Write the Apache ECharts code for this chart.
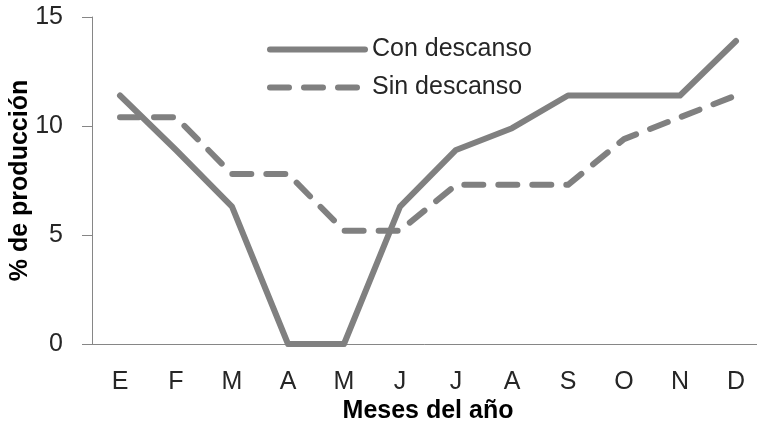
<!DOCTYPE html>
<html>
<head>
<meta charset="utf-8">
<script src="https://cdn.jsdelivr.net/npm/echarts@6/dist/echarts.min.js"></script>
<style>
html,body{margin:0;padding:0;background:#fff;}
#c{width:757px;height:425px;}
</style>
</head>
<body>
<div id="c"></div>
<script>
var months = ['E','F','M','A','M','J','J','A','S','O','N','D'];
var conDescanso = [11.4, 8.9, 6.3, 0, 0, 6.3, 8.9, 9.9, 11.4, 11.4, 11.4, 13.9];
var sinDescanso = [10.4, 10.4, 7.8, 7.8, 5.2, 5.2, 7.3, 7.3, 7.3, 9.4, 10.4, 11.4];
var seriesNames = ['Con descanso', 'Sin descanso'];

var FONT = 'Liberation Sans';
var GRAY = '#808080';
var AXIS = '#868686';
var TXT = '#262626';
var LW = 6;
var DASH = [19, 15];

var chart = echarts.init(document.getElementById('c'));
chart.setOption({
  animation: false,
  backgroundColor: '#fff',
  textStyle: { fontFamily: FONT },
  grid: { left: 92, top: 17, bottom: 81, right: -7, containLabel: false, outerBoundsMode: 'none' },
  legend: {
    orient: 'vertical',
    left: 262, top: 32,
    itemWidth: 95, itemHeight: 14, itemGap: 13,
    data: [
      { name: seriesNames[0], itemStyle: { opacity: 0 }, lineStyle: { width: LW, cap: 'round', color: GRAY } },
      { name: seriesNames[1], itemStyle: { opacity: 0 }, lineStyle: { width: LW, cap: 'round', type: DASH, color: GRAY } }
    ],
    textStyle: { fontFamily: FONT, fontSize: 25, color: TXT, padding: [0,0,0,2] }
  },
  xAxis: {
    type: 'category',
    data: months,
    boundaryGap: true,
    name: 'Meses del año',
    nameLocation: 'middle',
    nameGap: 55,
    nameMoveOverlap: false,
    nameTextStyle: { fontFamily: FONT, fontSize: 25, fontWeight: 'bold', color: '#000' },
    axisLine: { lineStyle: { color: AXIS, width: 1 } },
    axisTick: { inside: true, length: 9, lineStyle: { color: AXIS } },
    axisLabel: { margin: 26, fontSize: 25, color: TXT, fontFamily: FONT },
    splitLine: { show: false }
  },
  yAxis: {
    type: 'value',
    min: 0, max: 15, interval: 5,
    name: '% de producción',
    nameLocation: 'middle',
    nameGap: 59,
    nameMoveOverlap: false,
    nameTextStyle: { fontFamily: FONT, fontSize: 25, fontWeight: 'bold', color: '#000' },
    axisLine: { show: true, lineStyle: { color: AXIS, width: 1 } },
    axisTick: { show: true, length: 10, lineStyle: { color: AXIS } },
    axisLabel: { margin: 29, fontSize: 25, color: TXT, fontFamily: FONT },
    splitLine: { show: false }
  },
  series: [
    {
      name: seriesNames[0], type: 'line', data: conDescanso,
      symbol: 'none',
      lineStyle: { color: GRAY, width: LW, cap: 'round', join: 'round' },
      itemStyle: { color: GRAY }
    },
    {
      name: seriesNames[1], type: 'line', data: sinDescanso,
      symbol: 'none',
      lineStyle: { color: GRAY, width: LW, type: DASH, cap: 'round', join: 'round' },
      itemStyle: { color: GRAY }
    }
  ]
});
</script>
</body>
</html>
